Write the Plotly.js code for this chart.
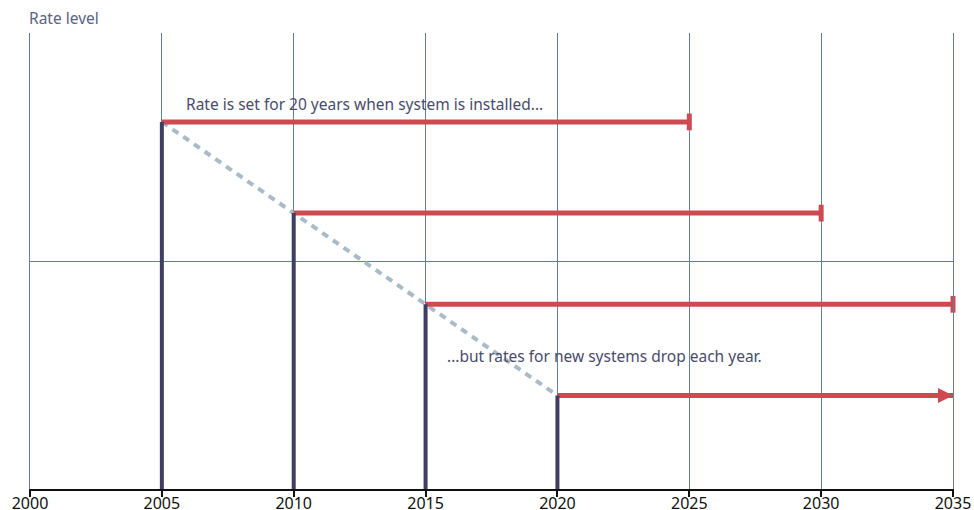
<!DOCTYPE html>
<html>
<head>
<meta charset="utf-8">
<script src="https://cdn.plot.ly/plotly-3.0.1.min.js"></script>
<style>html,body{margin:0;padding:0;background:#fff;}#chart{width:974px;height:510px;}</style>
</head>
<body>
<div id="chart"></div>
<script>
// Data
const installYears = [2005, 2010, 2015, 2020];
const rateLevels = [1.61, 1.21, 0.81, 0.41];
const contractYears = 20;
const endYear = 2035;
const tickYears = [2000, 2005, 2010, 2015, 2020, 2025, 2030, 2035];
const yAxisTitle = "Rate level";
const note1 = "Rate is set for 20 years when system is installed...";
const note2 = "...but rates for new systems drop each year.";

const red = "#cc4a50";
const navy = "#3e3f62";
const dotted = "#a9bbc7";
const grid = "#62809b";
const textCol = "#4a4c6c";

const traces = [];
// dotted decline line
traces.push({
  x: installYears, y: rateLevels, mode: "lines", type: "scatter",
  line: {color: dotted, width: 4, dash: "7px,6px"}, hoverinfo: "skip", showlegend: false
});
// red contract lines
installYears.forEach((yr, i) => {
  const end = Math.min(yr + contractYears, endYear);
  const capped = yr + contractYears <= endYear;
  traces.push({
    x: [yr, end], y: [rateLevels[i], rateLevels[i]], mode: "lines", type: "scatter",
    line: {color: red, width: 5}, hoverinfo: "skip", showlegend: false, cliponaxis: false
  });
  traces.push({
    x: [end], y: [rateLevels[i]], mode: "markers", type: "scatter",
    marker: capped
      ? {symbol: "line-ns", size: 12, color: red, line: {color: red, width: 5}}
      : {symbol: "arrow-right", size: 15, color: red, line: {width: 0}},
    hoverinfo: "skip", showlegend: false, cliponaxis: false
  });
});
// vertical navy bars
installYears.forEach((yr, i) => {
  traces.push({
    x: [yr, yr], y: [0, rateLevels[i]], mode: "lines", type: "scatter",
    line: {color: navy, width: 4}, hoverinfo: "skip", showlegend: false
  });
});

const layout = {
  width: 974, height: 510,
  margin: {l: 30, r: 21, t: 33, b: 21, pad: 0},
  paper_bgcolor: "#fff", plot_bgcolor: "#fff",
  font: {family: "Noto Sans, sans-serif", color: textCol},
  xaxis: {
    range: [2000, 2035], tickvals: tickYears, ticktext: tickYears.map(String),
    showgrid: true, gridcolor: grid, gridwidth: 1, zeroline: false,
    showline: true, linecolor: "#111", linewidth: 2,
    ticks: "outside", ticklen: 6, tickwidth: 2, tickcolor: "#111",
    ticklabelstandoff: -7,
    tickfont: {size: 16, color: "#111", family: "Noto Sans, sans-serif"},
    automargin: false, fixedrange: true
  },
  yaxis: {
    range: [0, 2], tickvals: [0, 1, 2], showticklabels: false,
    showgrid: true, gridcolor: grid, gridwidth: 1, zeroline: false,
    showline: true, linecolor: grid, linewidth: 1, mirror: true,
    automargin: false, fixedrange: true
  },
  annotations: [
    {xref: "paper", yref: "paper", x: 0, y: 1, xanchor: "left", yanchor: "bottom", yshift: 2, xshift: -3,
     text: yAxisTitle, showarrow: false, font: {size: 15.5, color: "#5c6284"}},
    {xref: "x", yref: "y", x: 2005.85, y: 1.69, xanchor: "left", yanchor: "middle",
     text: note1, showarrow: false, font: {size: 15.5, color: textCol}},
    {xref: "x", yref: "y", x: 2015.72, y: 0.585, xanchor: "left", yanchor: "middle",
     text: note2, showarrow: false, font: {size: 15.5, color: textCol}}
  ]
};

Plotly.newPlot("chart", traces, layout, {displayModeBar: false, staticPlot: true});
</script>
</body>
</html>
